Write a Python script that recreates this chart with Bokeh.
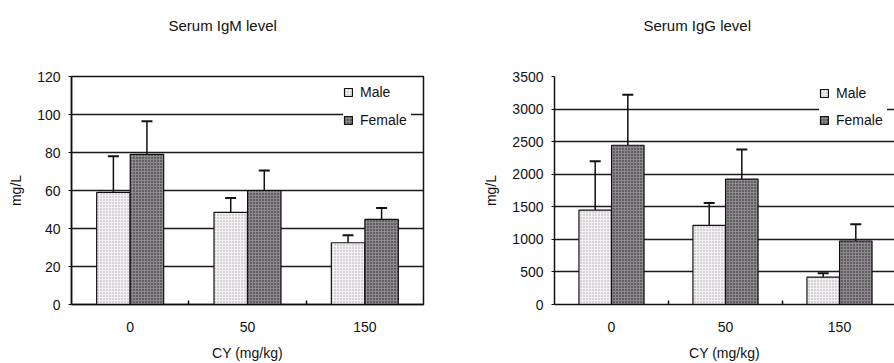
from bokeh.plotting import figure
from bokeh.layouts import row
from bokeh.models import (ColumnDataSource, Range1d, FixedTicker, Whisker, TeeHead,
                          Title)
from bokeh.embed import file_html
from bokeh.resources import INLINE

# ---------------- data ----------------
doses = ["0", "50", "150"]

igm_male = [59, 48.5, 32.5]
igm_male_sd = [19, 7.5, 4]
igm_female = [79, 60, 44.8]
igm_female_sd = [17.5, 10.5, 6]

igg_male = [1450, 1215, 420]
igg_male_sd = [750, 345, 60]
igg_female = [2445, 1925, 975]
igg_female_sd = [775, 455, 255]

igm_ticks = [0, 20, 40, 60, 80, 100, 120]
igg_ticks = [0, 500, 1000, 1500, 2000, 2500, 3000, 3500]

FONT = "Liberation Sans"
FS = "14px"
OFF = 0.143
BW = 0.285

MALE = dict(fill_color="#f4f1f4", hatch_pattern="dot", hatch_color="#a8a0a8",
            hatch_scale=3, hatch_weight=1, line_color="#111111", line_width=1.2)
FEMALE = dict(fill_color="#8e898e", hatch_pattern="dot", hatch_color="#1e1e1e",
              hatch_scale=3, hatch_weight=1, line_color="#111111", line_width=1.2)


def panel(title, male, male_sd, female, female_sd, ticks, ymax, width, bl, br,
          xend, title_off, legend_loc, spacing, outline):
    p = figure(width=width, height=363, output_backend="svg", toolbar_location=None,
               x_range=Range1d(-0.5, xend), y_range=Range1d(0, ymax),
               min_border_left=bl, min_border_right=br, min_border_top=76,
               min_border_bottom=59, background_fill_color="white",
               border_fill_color="white")
    p.title = None
    # spacer nearest the frame, then the real title further out
    p.add_layout(Title(text=" ", standoff=11, text_font=FONT,
                       text_font_size="15px"), "above")
    p.add_layout(Title(text=title, align="left", offset=title_off,
                       standoff=26,
                       text_font=FONT, text_font_size="15px", text_font_style="normal",
                       text_color="#111111"), "above")
    xs = list(range(len(doses)))
    src = ColumnDataSource(dict(
        xm=[x - OFF for x in xs], xf=[x + OFF for x in xs],
        male=male, female=female,
        mu=[m + s for m, s in zip(male, male_sd)],
        fu=[f + s for f, s in zip(female, female_sd)],
    ))
    p.vbar(x="xm", top="male", width=BW, source=src, legend_label="Male", **MALE)
    p.vbar(x="xf", top="female", width=BW, source=src, legend_label="Female", **FEMALE)
    for xcol, lo, up in (("xm", "male", "mu"), ("xf", "female", "fu")):
        w = Whisker(base=xcol, lower=lo, upper=up, source=src, dimension="height",
                    line_color="#111111", line_width=1.5,
                    upper_head=TeeHead(size=11, line_color="#111111", line_width=2),
                    lower_head=None)
        p.add_layout(w)

    # axes
    p.xaxis.ticker = FixedTicker(ticks=xs, minor_ticks=[0.5, 1.5])
    p.xaxis.major_label_overrides = {i: d for i, d in enumerate(doses)}
    p.xaxis.major_tick_line_color = None
    p.xaxis.minor_tick_in = 4
    p.xaxis.minor_tick_out = 0
    p.xaxis.minor_tick_line_color = "#111111"
    p.xaxis.minor_tick_line_width = 1.5
    p.xaxis.axis_line_color = "#111111"
    p.xaxis.axis_line_width = 1.5
    p.xaxis.major_label_standoff = 11
    p.xaxis.axis_label = "CY (mg/kg)"
    p.xaxis.axis_label_standoff = 10

    p.yaxis.ticker = FixedTicker(ticks=ticks)
    p.yaxis.major_tick_in = 0
    p.yaxis.major_tick_out = 3
    p.yaxis.major_tick_line_color = "#111111"
    p.yaxis.minor_tick_line_color = None
    p.yaxis.axis_line_color = "#111111"
    p.yaxis.axis_line_width = 1.5
    p.yaxis.major_label_standoff = 8
    p.yaxis.axis_label = "mg/L"
    p.yaxis.axis_label_standoff = 10

    for ax in (p.xaxis, p.yaxis):
        ax.major_label_text_font = FONT
        ax.major_label_text_font_size = FS
        ax.major_label_text_color = "#111111"
        ax.axis_label_text_font = FONT
        ax.axis_label_text_font_size = FS
        ax.axis_label_text_font_style = "normal"
        ax.axis_label_text_color = "#111111"

    p.xgrid.grid_line_color = None
    p.ygrid.ticker = FixedTicker(ticks=ticks)
    p.ygrid.grid_line_color = "#1a1a1a"
    p.ygrid.grid_line_width = 1.5

    if outline:
        p.outline_line_color = "#111111"
        p.outline_line_width = 1.5
    else:
        p.outline_line_color = None

    lg = p.legend[0]
    lg.location = legend_loc
    lg.background_fill_color = "white"
    lg.background_fill_alpha = 1.0
    lg.border_line_color = None
    lg.padding = 6
    lg.margin = 0
    lg.spacing = spacing
    lg.label_height = 20
    lg.label_width = 51
    lg.glyph_width = 10
    lg.glyph_height = 10
    lg.label_standoff = 7
    lg.label_text_font = FONT
    lg.label_text_font_size = FS
    lg.label_text_color = "#111111"
    return p


p1 = panel("Serum IgM level", igm_male, igm_male_sd, igm_female, igm_female_sd,
           igm_ticks, 120, 450, 71, 27, 2.5, 97, (272, 174), 8, True)
p2 = panel("Serum IgG level", igg_male, igg_male_sd, igg_female, igg_female_sd,
           igg_ticks, 3500, 444, 104, 0, -0.5 + 340 / 114, 89, (265, 174), 7, False)

layout = row(p1, p2, spacing=0)
open("out.html", "w").write(file_html(layout, INLINE))
